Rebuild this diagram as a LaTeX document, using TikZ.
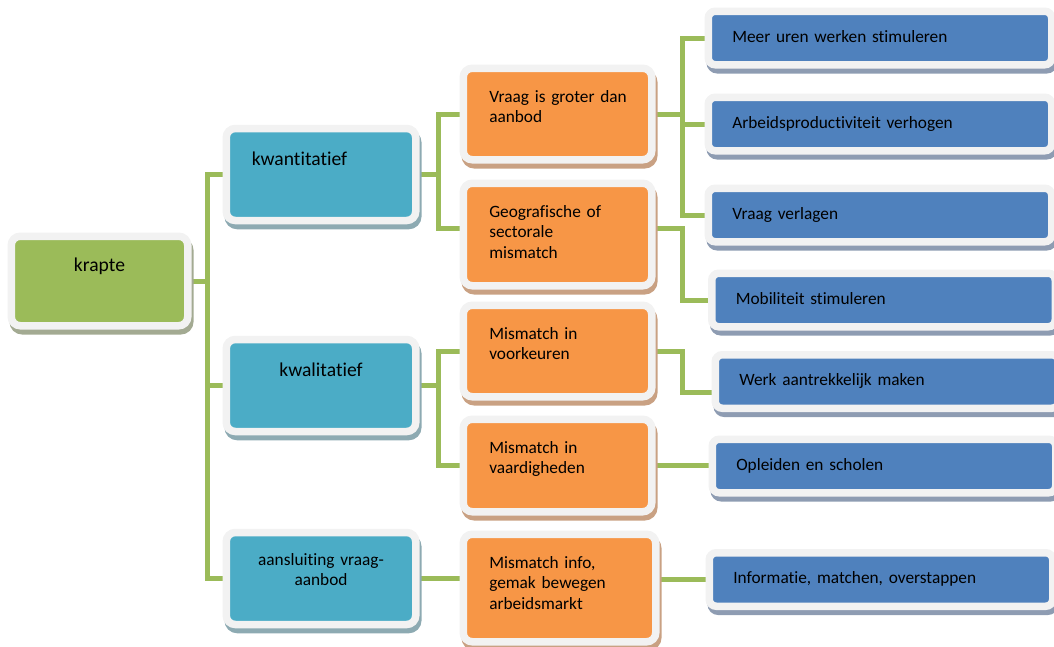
\documentclass[tikz,border=0pt]{standalone}
\usepackage{fontspec}
\setmainfont{Carlito}[Ligatures=NoCommon]
\usepackage{xcolor}
\usetikzlibrary{
    backgrounds,
    calc
}
\definecolor{krapgroen}{HTML}{9BBB59}
\definecolor{soortblauw}{HTML}{4BACC6}
\definecolor{oorzaakoranje}{HTML}{F79646}
\definecolor{maatblauw}{HTML}{4F81BD}
\definecolor{kader}{HTML}{F2F2F2}
\definecolor{krapschaduw}{HTML}{A3AA92}
\definecolor{soortschaduw}{HTML}{8DAAB2}
\definecolor{oorzaakschaduw}{HTML}{C9A183}
\definecolor{maatschaduw}{HTML}{8E9CB2}
\newcommand{\klein}{\fontsize{17.3}{20.5}\selectfont}
\newcommand{\groot}{\fontsize{19.6}{23}\selectfont}
\tikzset{
    blok/.style 2 args={rounded corners=9pt, fill=#1, draw=kader, line width=7.5pt,
        preaction={draw=#2, fill=#2, line width=7.5pt, transform canvas={shift={(2pt,-5pt)}}},
        inner ysep=0pt, outer sep=0pt, text=black},
    hoofd/.style={blok={krapgroen}{krapschaduw}, inner xsep=10pt, text width=156.5pt,
        align=center, font=\groot, text height=35.35pt, text depth=54.15pt},
    soort/.style={blok={soortblauw}{soortschaduw}, inner xsep=10pt, text width=169.5pt,
        align=center, font=\groot, text height=36.8pt, text depth=55.2pt},
    oorzaak/.style={blok={oorzaakoranje}{oorzaakschaduw}, inner xsep=26pt, text width=136.5pt,
        align=left, font=\klein, text height=33.75pt},
    maatregel/.style={blok={maatblauw}{maatschaduw}, rounded corners=7pt, inner xsep=24pt,
        text width=295.5pt, align=left, font=\klein, text height=30.75pt, text depth=22.75pt},
    lijn/.style={draw=krapgroen, line width=5pt}
}

\begin{document}
\begin{tikzpicture}[x=1pt, y=-1pt]
    \useasboundingbox (0, 0) rectangle (1054, 646);
    \node[hoofd] (krapte) at (99.5, 281) {krapte};
    \node[soort, inner xsep=25.5pt, text width=138.5pt, align=left] (kwant) at (321, 174.5) {kwantitatief};
    \node[soort] (kwal) at (321, 385.5) {kwalitatief};
    \node[soort, font=\klein, text height=32.75pt, text depth=59.25pt] (aansl) at (321, 578.5) {aansluiting vraag-\\aanbod};
    \node[oorzaak, text depth=57.75pt] (vraag) at (557.5, 114) {\mbox{Vraag is groter dan}\\aanbod};
    \node[oorzaak, text depth=68.75pt] (geo) at (557.5, 234.5) {Geografische of\\sectorale\\mismatch};
    \node[oorzaak, text depth=57.75pt] (voork) at (557.5, 351) {Mismatch in\\voorkeuren};
    \node[oorzaak, text depth=58.75pt] (vaard) at (557.5, 465.5) {Mismatch in\\vaardigheden};
    \node[oorzaak, text width=140.5pt, text depth=73.75pt] (info) at (559.5, 588) {Mismatch info,\\gemak bewegen\\arbeidsmarkt};
    \node[maatregel] (meer) at (880, 38) {Meer uren werken stimuleren};
    \node[maatregel] (arbeid) at (880, 124) {Arbeidsproductiviteit verhogen};
    \node[maatregel] (verlagen) at (880, 215) {Vraag verlagen};
    \node[maatregel] (mobil) at (883.5, 300) {Mobiliteit stimuleren};
    \node[maatregel] (werk) at (887, 381.5) {Werk aantrekkelijk maken};
    \node[maatregel] (opleid) at (884, 466) {Opleiden en scholen};
    \node[maatregel] (inform) at (881, 579.5) {Informatie, matchen, overstappen};
    \coordinate (t1) at (207, 0);
    \coordinate (t2) at (438, 0);
    \coordinate (t3) at (682, 0);
    \coordinate (geo-l) at ([yshift=6.5pt]geo.west);
    \coordinate (geo-r) at ([yshift=6.5pt]geo.east);
    \coordinate (werk-l) at ([yshift=-10.5pt]werk.west);
    \begin{scope}[on background layer]
        \draw[lijn] (krapte.east) -- (krapte.east -| t1);
        \draw[lijn] (kwant.west) -| (t1 |- aansl.west) -- (aansl.west);
        \draw[lijn] (kwal.west) -- (kwal.west -| t1);
        \draw[lijn] (kwant.east) -- (kwant.east -| t2);
        \draw[lijn] (vraag.west) -| (t2 |- geo-l) -- (geo-l);
        \draw[lijn] (kwal.east) -- (kwal.east -| t2);
        \draw[lijn] (voork.west) -| (t2 |- vaard.west) -- (vaard.west);
        \draw[lijn] (vraag.east) -- (vraag.east -| t3);
        \draw[lijn] (meer.west) -| (t3 |- verlagen.west) -- (verlagen.west);
        \draw[lijn] (arbeid.west) -- (arbeid.west -| t3);
        \draw[lijn] (geo-r) -| (t3 |- mobil.west) -- (mobil.west);
        \draw[lijn] (voork.east) -| (t3 |- werk-l) -- (werk-l);
        \draw[lijn] (vaard.east) -- (vaard.east -| opleid.west);
        \draw[lijn] (aansl.east) -- (aansl.east -| info.west);
        \draw[lijn] (inform.west -| info.east) -- (inform.west);
    \end{scope}
\end{tikzpicture}
\end{document}
